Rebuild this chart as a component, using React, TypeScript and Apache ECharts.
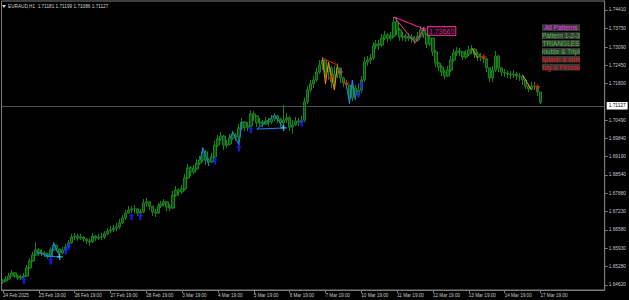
import React, { useEffect, useRef } from 'react';
import * as echarts from 'echarts';

// ---- 2-hour bars (EURAUD) ----
const firstOpen = 1.6473;
const closes = [
  1.6476, 1.6483, 1.6494, 1.6505, 1.6494, 1.6487, 1.6491, 1.6494, 1.6523, 1.6547,
  1.6569, 1.6587, 1.6576, 1.6576, 1.6572, 1.6565, 1.6587, 1.6604, 1.6590, 1.6576,
  1.6587, 1.6597, 1.6612, 1.6633, 1.6636, 1.6629, 1.6633, 1.6626, 1.6619, 1.6615,
  1.6636, 1.6629, 1.6633, 1.6633, 1.6644, 1.6654, 1.6658, 1.6665, 1.6669, 1.6683,
  1.6701, 1.6718, 1.6729, 1.6733, 1.6733, 1.6718, 1.6722, 1.6754, 1.6758, 1.6743,
  1.6722, 1.6718, 1.6743, 1.6750, 1.6758, 1.6740, 1.6736, 1.6782, 1.6800, 1.6793,
  1.6804, 1.6843, 1.6879, 1.6864, 1.6875, 1.6896, 1.6907, 1.6936, 1.6907, 1.6900,
  1.6918, 1.6960, 1.6982, 1.6992, 1.6960, 1.6964, 1.6985, 1.6996, 1.6989, 1.7021,
  1.7042, 1.7024, 1.7028, 1.7071, 1.7064, 1.7039, 1.7042, 1.7035, 1.7046, 1.7042,
  1.7053, 1.7064, 1.7053, 1.7039, 1.7049, 1.7057, 1.7024, 1.7032, 1.7046, 1.7042,
  1.7049, 1.7114, 1.7156, 1.7178, 1.7192, 1.7220, 1.7245, 1.7263, 1.7220, 1.7235,
  1.7185, 1.7213, 1.7235, 1.7199, 1.7181, 1.7174, 1.7128, 1.7163, 1.7138, 1.7156,
  1.7192, 1.7256, 1.7263, 1.7270, 1.7313, 1.7320, 1.7316, 1.7341, 1.7352, 1.7341,
  1.7348, 1.7398, 1.7370, 1.7345, 1.7348, 1.7341, 1.7345, 1.7338, 1.7334, 1.7348,
  1.7370, 1.7356, 1.7320, 1.7341, 1.7292, 1.7252, 1.7238, 1.7220, 1.7206, 1.7227,
  1.7263, 1.7288, 1.7295, 1.7292, 1.7274, 1.7284, 1.7299, 1.7302, 1.7284, 1.7274,
  1.7274, 1.7267, 1.7235, 1.7199, 1.7227, 1.7277, 1.7235, 1.7220, 1.7217, 1.7213,
  1.7210, 1.7213, 1.7206, 1.7203, 1.7192, 1.7170, 1.7160, 1.7170, 1.7170, 1.7149,
  1.71127,
];
const highs = [
  1.6483, 1.6494, 1.6505, 1.6515, 1.6508, 1.6498, 1.6498, 1.6505, 1.6533, 1.6558,
  1.6580, 1.6615, 1.6594, 1.6587, 1.6583, 1.6576, 1.6597, 1.6615, 1.6604, 1.6590,
  1.6597, 1.6608, 1.6622, 1.6644, 1.6647, 1.6644, 1.6644, 1.6636, 1.6629, 1.6626,
  1.6647, 1.6640, 1.6644, 1.6647, 1.6654, 1.6665, 1.6672, 1.6676, 1.6683, 1.6697,
  1.6711, 1.6729, 1.6743, 1.6743, 1.6747, 1.6736, 1.6733, 1.6768, 1.6772, 1.6758,
  1.6743, 1.6733, 1.6754, 1.6761, 1.6768, 1.6761, 1.6750, 1.6797, 1.6814, 1.6807,
  1.6818, 1.6857, 1.6893, 1.6886, 1.6889, 1.6911, 1.6921, 1.6953, 1.6943, 1.6914,
  1.6932, 1.6975, 1.6996, 1.7007, 1.6996, 1.6978, 1.7000, 1.7010, 1.7003, 1.7035,
  1.7057, 1.7046, 1.7042, 1.7085, 1.7081, 1.7064, 1.7057, 1.7049, 1.7060, 1.7057,
  1.7067, 1.7074, 1.7067, 1.7057, 1.7103, 1.7074, 1.7064, 1.7049, 1.7060, 1.7057,
  1.7064, 1.7128, 1.7170, 1.7192, 1.7206, 1.7235, 1.7263, 1.7274, 1.7263, 1.7249,
  1.7242, 1.7245, 1.7252, 1.7235, 1.7203, 1.7192, 1.7174, 1.7185, 1.7174, 1.7178,
  1.7206, 1.7274, 1.7277, 1.7284, 1.7327, 1.7334, 1.7334, 1.7356, 1.7366, 1.7359,
  1.7363, 1.7416, 1.7416, 1.7377, 1.7363, 1.7356, 1.7359, 1.7356, 1.7348, 1.7363,
  1.7384, 1.7381, 1.7359, 1.7356, 1.7341, 1.7299, 1.7256, 1.7245, 1.7227, 1.7242,
  1.7277, 1.7302, 1.7309, 1.7306, 1.7292, 1.7299, 1.7313, 1.7316, 1.7306, 1.7292,
  1.7288, 1.7281, 1.7270, 1.7235, 1.7242, 1.7295, 1.7281, 1.7238, 1.7231, 1.7227,
  1.7224, 1.7227, 1.7220, 1.7217, 1.7210, 1.7195, 1.7178, 1.7185, 1.7185, 1.7174,
  1.7149,
];
const lows = [
  1.6466, 1.6473, 1.6483, 1.6494, 1.6487, 1.6480, 1.6480, 1.6483, 1.6491, 1.6519,
  1.6544, 1.6565, 1.6565, 1.6565, 1.6562, 1.6555, 1.6558, 1.6583, 1.6580, 1.6565,
  1.6572, 1.6583, 1.6594, 1.6608, 1.6622, 1.6619, 1.6622, 1.6615, 1.6608, 1.6601,
  1.6612, 1.6619, 1.6622, 1.6622, 1.6626, 1.6640, 1.6647, 1.6651, 1.6654, 1.6661,
  1.6679, 1.6693, 1.6715, 1.6718, 1.6718, 1.6708, 1.6704, 1.6718, 1.6740, 1.6729,
  1.6708, 1.6704, 1.6715, 1.6736, 1.6743, 1.6725, 1.6725, 1.6733, 1.6775, 1.6779,
  1.6786, 1.6797, 1.6839, 1.6850, 1.6857, 1.6871, 1.6889, 1.6900, 1.6889, 1.6886,
  1.6896, 1.6914, 1.6953, 1.6975, 1.6943, 1.6950, 1.6960, 1.6978, 1.6975, 1.6960,
  1.7014, 1.7010, 1.7010, 1.7021, 1.7046, 1.7024, 1.7028, 1.7024, 1.7032, 1.7028,
  1.7035, 1.7046, 1.7039, 1.7024, 1.7024, 1.7039, 1.7010, 1.7000, 1.7028, 1.7028,
  1.7035, 1.7042, 1.7106, 1.7149, 1.7163, 1.7185, 1.7213, 1.7227, 1.7199, 1.7192,
  1.7163, 1.7156, 1.7199, 1.7181, 1.7167, 1.7160, 1.7106, 1.7117, 1.7121, 1.7131,
  1.7146, 1.7185, 1.7242, 1.7249, 1.7263, 1.7302, 1.7299, 1.7309, 1.7334, 1.7327,
  1.7331, 1.7341, 1.7352, 1.7331, 1.7331, 1.7327, 1.7331, 1.7324, 1.7320, 1.7327,
  1.7341, 1.7341, 1.7306, 1.7313, 1.7277, 1.7238, 1.7224, 1.7206, 1.7195, 1.7203,
  1.7220, 1.7256, 1.7277, 1.7277, 1.7263, 1.7267, 1.7277, 1.7284, 1.7270, 1.7259,
  1.7259, 1.7252, 1.7220, 1.7185, 1.7185, 1.7220, 1.7220, 1.7206, 1.7203, 1.7199,
  1.7195, 1.7199, 1.7192, 1.7188, 1.7174, 1.7160, 1.7149, 1.7156, 1.7156, 1.7135,
  1.7106,
];
const futureBars = 21;

// ---- axis labels ----
const dayLabels = [
  '24 Feb 2025', '25 Feb 19:00', '26 Feb 19:00', '27 Feb 19:00', '28 Feb 19:00',
  '3 Mar 19:00', '4 Mar 19:00', '5 Mar 19:00', '6 Mar 19:00', '7 Mar 19:00',
  '10 Mar 19:00', '11 Mar 19:00', '12 Mar 19:00', '13 Mar 19:00', '14 Mar 19:00',
  '17 Mar 19:00',
];
const yTicks = [
  1.7441, 1.7375, 1.7309, 1.7245, 1.718, 1.7049, 1.6984, 1.6919, 1.6854,
  1.6788, 1.6723, 1.6658, 1.6593, 1.6528, 1.6462,
];
const currentPrice = 1.71127;
const headerText = 'EURAUD,H1  1.71181 1.71199 1.71086 1.71127';

// ---- pattern indicator marks: [bar index, price] ----
const blueArrows = [
  [7, 1.6485], [16, 1.6555], [21, 1.659], [22, 1.6606], [43, 1.6713], [46, 1.6713],
  [71, 1.6911], [79, 1.6957], [83, 1.7022], [100, 1.7046], [119, 1.7149], [120, 1.7181],
];
const cyanCrosses = [[19, 1.6562], [94, 1.7021]];
const redCrosses = [[110, 1.7199], [115, 1.7181], [161, 1.7274], [179, 1.7167]];
const pinkCrosses = [[113, 1.722], [141, 1.7373]];
const blueLines = [
  [[11, 1.658], [16, 1.6562], [17, 1.6612], [19, 1.6562]],
  [[14, 1.6565], [19, 1.6562]],
  [[66, 1.6907], [67, 1.695], [69, 1.6886]],
  [[76, 1.6985], [77, 1.7007], [79, 1.696], [80, 1.7042]],
  [[85, 1.7017], [94, 1.7021]],
  [[85, 1.7017], [91, 1.7067], [94, 1.7021]],
  [[115, 1.7174], [116, 1.711], [117, 1.7192], [118, 1.7121]],
];
const orangeLines = [
  [[107, 1.727], [108, 1.7178], [109, 1.7256], [111, 1.7156], [112, 1.7245]],
  [[157, 1.7306], [159, 1.727]],
  [[174, 1.721], [177, 1.7156]],
];
const redLines = [[[107, 1.727], [112, 1.7245]]];
const pinkLines = [[[141, 1.7373], [131, 1.7416], [138, 1.7324], [141, 1.7373]]];
const priceTag = { index: 141, price: 1.7366, text: '1.73660' };
const buttons = [
  { text: 'All Patterns', color: '#f040f0' },
  { text: 'Pattern 1-2-3', color: '#40c040' },
  { text: 'TRIANGLES', color: '#40c040' },
  { text: 'Double & Triple', color: '#40c040' },
  { text: 'Splash & shelf', color: '#f01414' },
  { text: 'Flag & Pennant', color: '#e01414' },
];

const MONTHS = ['Jan', 'Feb', 'Mar', 'Apr', 'May', 'Jun', 'Jul', 'Aug', 'Sep', 'Oct', 'Nov', 'Dec'];
function buildCategories(n: number): string[] {
  const out: string[] = [];
  let t = Date.UTC(2025, 1, 24, 19);
  while (out.length < n) {
    const d = new Date(t);
    const wd = d.getUTCDay();
    if (wd !== 0 && wd !== 6) {
      out.push(`${d.getUTCDate()} ${MONTHS[d.getUTCMonth()]} ${String(d.getUTCHours()).padStart(2, '0')}:00`);
    }
    t += 2 * 3600 * 1000;
  }
  return out;
}

const FONT = 'Liberation Sans';
const GRAY = '#7c7c7c';

export default function App() {
  const ref = useRef<HTMLDivElement>(null);
  useEffect(() => {
    if (!ref.current) return;
    const chart = echarts.init(ref.current, null, { renderer: 'svg' });
    const nBars = closes.length;
    const categories = buildCategories(nBars + futureBars);
    const lastIdx = nBars - 1;
    const candles = closes.map((c, i) => [i === 0 ? firstOpen : closes[i - 1], c, lows[i], highs[i]]);
    const showIdx = (i: number) => i % 12 === 0 && i <= lastIdx;

    const lineSeries = (groups: number[][][], color: string) =>
      groups.map((pts) => ({
        type: 'line',
        data: pts,
        symbol: 'none',
        silent: true,
        z: 5,
        lineStyle: { color, width: 1 },
      }));

    const CROSS = 'path://M4 0H6V4H10V6H6V10H4V6H0V4H4Z';
    const ARROW = 'path://M5 0L10 5H7V11H3V5H0Z';

    const option: any = {
      animation: false,
      backgroundColor: '#000',
      grid: { left: 0, right: 24, top: 1, bottom: 10, show: true, borderColor: GRAY, borderWidth: 1 },
      xAxis: {
        type: 'category',
        data: categories,
        boundaryGap: true,
        axisLine: { show: true, lineStyle: { color: GRAY } },
        axisTick: { show: true, alignWithLabel: true, length: 3, interval: (i: number) => showIdx(i), lineStyle: { color: GRAY } },
        axisLabel: {
          interval: (i: number) => showIdx(i),
          formatter: (_v: string, i: number) => (showIdx(i) ? dayLabels[i / 12] : ''),
          align: 'left',
          margin: 3,
          color: '#c8c8c8',
          fontSize: 4.6,
          fontFamily: FONT,
        },
        splitLine: { show: false },
      },
      yAxis: {
        type: 'value',
        position: 'right',
        min: 1.64442,
        max: 1.7473,
        splitLine: { show: false },
        axisLine: { show: true, lineStyle: { color: GRAY } },
        axisTick: { show: true, customValues: yTicks, length: 3, lineStyle: { color: GRAY } },
        axisLabel: {
          customValues: yTicks,
          formatter: (v: number) => v.toFixed(5),
          color: '#c8c8c8',
          fontSize: 4.8,
          fontFamily: FONT,
          margin: 4,
        },
      },
      series: [
        {
          type: 'candlestick',
          data: candles,
          barWidth: 3,
          itemStyle: {
            color: '#0a4e0a',
            color0: '#0a4e0a',
            borderColor: '#1a8420',
            borderColor0: '#1a8420',
            borderWidth: 1,
          },
          markLine: {
            silent: true,
            symbol: 'none',
            lineStyle: { color: '#4c5054', width: 1, type: 'solid' },
            label: {
              position: 'end',
              formatter: currentPrice.toFixed(5),
              backgroundColor: '#ffffff',
              color: '#000000',
              fontSize: 4.8,
              fontFamily: FONT,
              padding: [1.5, 2, 1, 2],
              distance: 2,
            },
            data: [{ yAxis: currentPrice }],
          },
        },
        ...lineSeries(blueLines, '#2080ff'),
        ...lineSeries(orangeLines, '#ff8c00'),
        ...lineSeries(redLines, '#ff1010'),
        ...lineSeries(pinkLines, '#ff2fa0'),
        { type: 'scatter', data: blueArrows, symbol: ARROW, symbolSize: [6, 7], symbolOffset: [0, 2], itemStyle: { color: '#1e1eff' }, z: 6, silent: true },
        { type: 'scatter', data: cyanCrosses, symbol: CROSS, symbolSize: 6, itemStyle: { color: '#40e8ff' }, z: 6, silent: true },
        { type: 'scatter', data: redCrosses, symbol: CROSS, symbolSize: 6, itemStyle: { color: '#ff1010' }, z: 6, silent: true },
        { type: 'scatter', data: pinkCrosses, symbol: CROSS, symbolSize: 5, itemStyle: { color: '#ff3fb0' }, z: 6, silent: true },
        {
          type: 'scatter',
          data: [[priceTag.index, priceTag.price]],
          symbolSize: 0,
          z: 7,
          silent: true,
          label: {
            show: true,
            position: 'right',
            distance: 4,
            formatter: priceTag.text,
            color: '#ff3fa8',
            fontSize: 7,
            fontFamily: FONT,
            borderColor: '#ff3fa8',
            borderWidth: 1,
            backgroundColor: '#1a0010',
            padding: [1, 1, 0, 1],
          },
        },
      ],
      graphic: [
        { type: 'polygon', shape: { points: [[2, 5], [6, 5], [4, 8]] }, style: { fill: '#d0d0d0' } },
        { type: 'text', x: 8, y: 6.5, style: { text: headerText, fill: '#d0d0d0', fontSize: 4.7, fontFamily: FONT, verticalAlign: 'middle' } },
        ...buttons.flatMap((b, k) => [
          { type: 'rect', shape: { x: 542, y: 24.3 + 7.9 * k, width: 38, height: 6.7 }, style: { fill: '#3a3a3a' }, z: 100 },
          {
            type: 'text',
            x: 561,
            y: 27.8 + 7.9 * k,
            style: { text: b.text, fill: b.color, fontSize: 6.5, fontFamily: FONT, align: 'center', verticalAlign: 'middle' },
            z: 101,
          },
        ]),
        { type: 'rect', shape: { x: 528, y: 22, width: 14, height: 50 }, style: { fill: '#000' }, z: 102 },
        { type: 'rect', shape: { x: 580, y: 22, width: 24, height: 50 }, style: { fill: '#000' }, z: 102 },
      ],
    };
    chart.setOption(option);
    return () => chart.dispose();
  }, []);
  return <div ref={ref} style={{ position: 'fixed', left: 0, top: 0, width: 629, height: 300 }} />;
}
